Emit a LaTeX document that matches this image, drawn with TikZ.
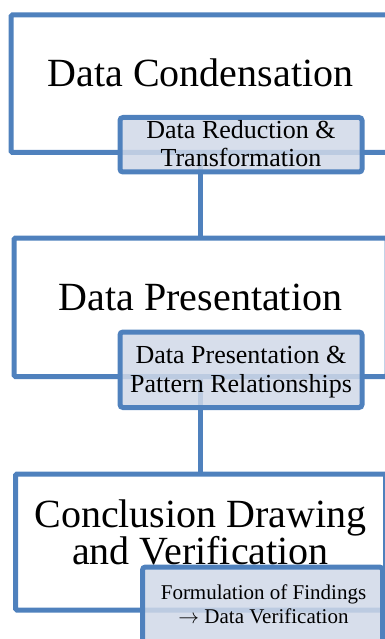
\documentclass[tikz,border=0pt]{standalone}
\usepackage{fontspec}
\setmainfont{Liberation Serif}
\definecolor{boxblue}{RGB}{79,129,189}
\definecolor{boxfill}{RGB}{208,216,232}
\begin{document}
\begin{tikzpicture}[x=1pt,y=-1pt,
  bigbox/.style={draw=boxblue, line width=5pt, rounded corners=1.5pt, rectangle, inner sep=0pt, outer sep=0pt},
  smallbox/.style={draw=boxblue, line width=5pt, rounded corners=3pt, rectangle, inner sep=0pt, outer sep=0pt, fill=boxfill, fill opacity=0.85},
  conn/.style={draw=boxblue, line width=5pt},
  titletext/.style={font=\fontsize{40}{37}\selectfont, align=center, inner sep=0pt},
  subtext/.style={font=\fontsize{26}{28.5}\selectfont, align=center, inner sep=0pt, text height=18pt, text depth=6pt},
  subtextsmall/.style={font=\fontsize{21}{22.5}\selectfont, align=center, inner sep=0pt, text height=15pt, text depth=5pt}]
\useasboundingbox (0,0) rectangle (384,639);
% big boxes
\node[bigbox, minimum width=379pt, minimum height=137.5pt] (b1) at (200.5,83.75) {};
\node[bigbox, minimum width=373pt, minimum height=138.5pt] (b2) at (200.5,307.25) {};
\node[bigbox, minimum width=370pt, minimum height=136pt] (b3) at (200.5,542) {};
% connectors
\draw[conn] (b1.south) -- (b2.north);
\draw[conn] (b2.south) -- (b3.north);
% titles
\node[titletext, anchor=base] (t1) at (200.5,87) {Data Condensation};
\node[titletext, anchor=base] (t2) at (200.5,310) {Data Presentation};
\node[titletext, anchor=base] (t3a) at (200.5,527) {Conclusion Drawing};
\node[titletext, anchor=base] (t3b) at (200.5,564) {and Verification};
% small boxes
\node[smallbox, minimum width=242pt, minimum height=54.5pt] (s1) at (241,144.75) {};
\node[smallbox, minimum width=242pt, minimum height=75.5pt] (s2) at (241,369.75) {};
\node[smallbox, minimum width=240pt, minimum height=93pt] (s3) at (262.5,613.5) {};
% small texts
\node[subtext, anchor=base] (s1a) at (241,139) {Data Reduction \&};
\node[subtext, anchor=base] (s1b) at (241,167) {Transformation};
\node[subtext, anchor=base] (s2a) at (241,363) {Data Presentation \&};
\node[subtext, anchor=base] (s2b) at (241,392) {Pattern Relationships};
\node[subtextsmall, anchor=base] (s3a) at (263.5,599) {Formulation of Findings};
\node[subtextsmall, anchor=base] (s3b) at (263.5,623) {$\rightarrow$ Data Verification};
\end{tikzpicture}
\end{document}
